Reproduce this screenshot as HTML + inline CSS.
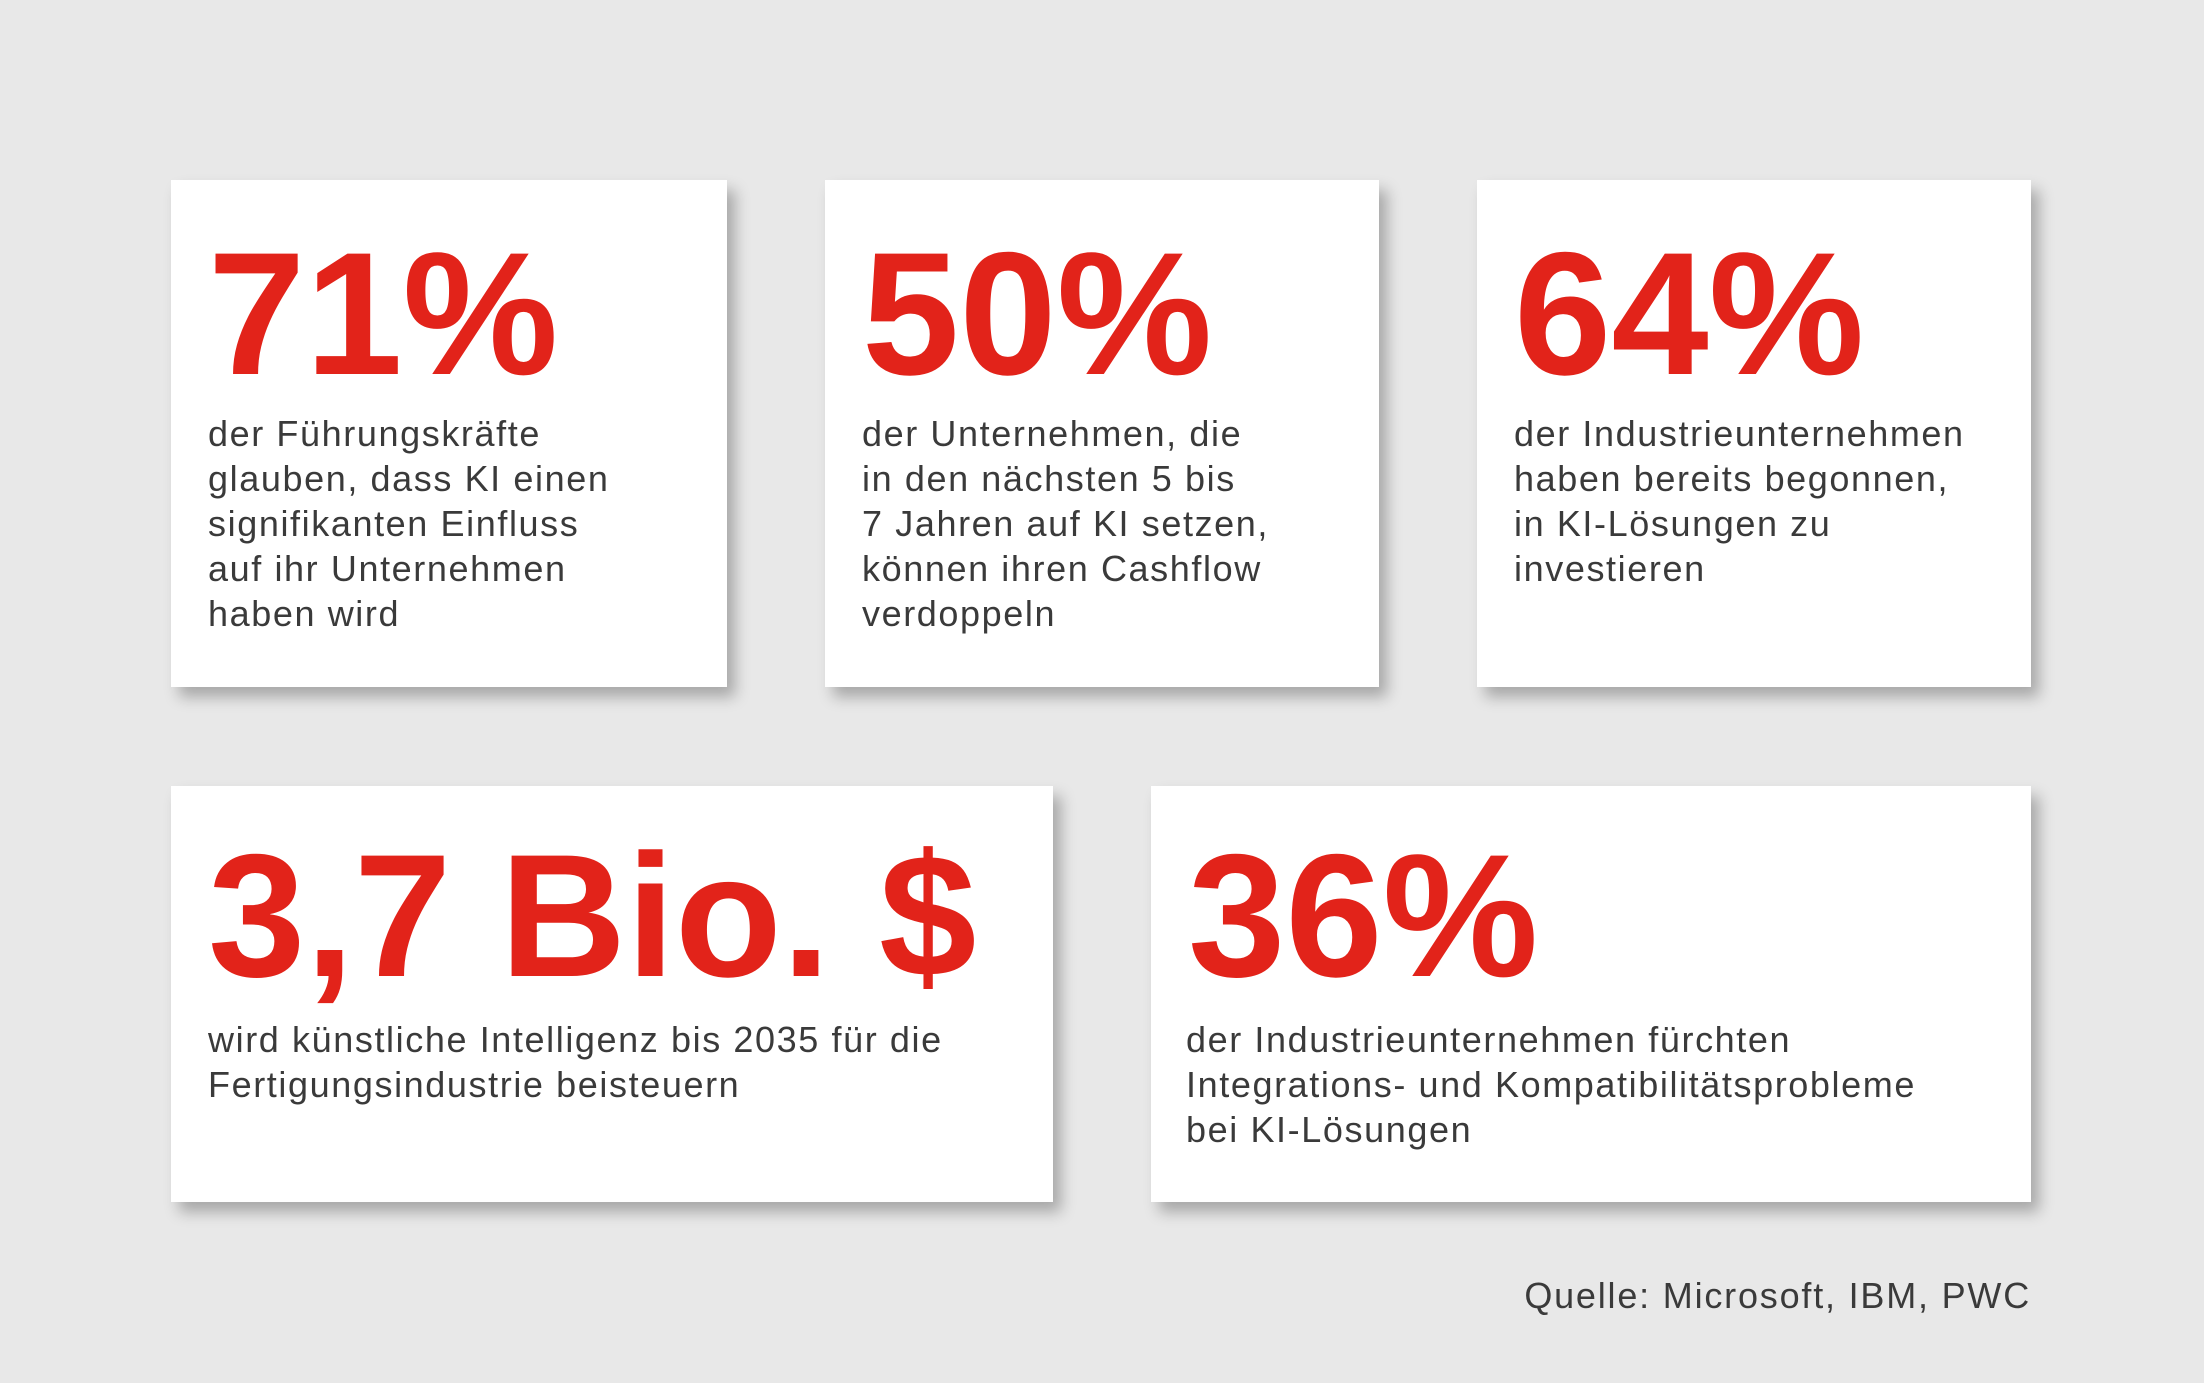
<!DOCTYPE html>
<html><head><meta charset="utf-8">
<style>
html,body{margin:0;padding:0}
body{width:2204px;height:1383px;background:#e8e8e8;position:relative;overflow:hidden;font-family:"Liberation Sans",sans-serif}
.card{position:absolute;background:#fff;box-shadow:8px 10px 14px rgba(0,0,0,0.28)}
.num{position:absolute;color:#e2231a;font-weight:bold;font-size:175px;line-height:1;letter-spacing:0px;white-space:nowrap}
.txt{position:absolute;color:#3a3a3a;font-size:36px;line-height:45px;white-space:nowrap;letter-spacing:1.6px}
.src{position:absolute;right:173px;top:1273px;color:#3a3a3a;font-size:36px;line-height:45px;letter-spacing:1.8px}
</style></head><body>
<div class="card" style="left:171px;top:180px;width:556px;height:507px"></div>
<div class="card" style="left:825px;top:180px;width:554px;height:507px"></div>
<div class="card" style="left:1477px;top:180px;width:554px;height:507px"></div>
<div class="card" style="left:171px;top:786px;width:882px;height:416px"></div>
<div class="card" style="left:1151px;top:786px;width:880px;height:416px"></div>

<div class="num" style="left:208px;top:227px">71%</div>
<div class="num" style="left:862px;top:227px">50%</div>
<div class="num" style="left:1514px;top:227px">64%</div>
<div class="num" style="left:208px;top:829px">3,7 Bio. $</div>
<div class="num" style="left:1188px;top:829px">36%</div>

<div class="txt" style="left:208px;top:411px">der Führungskräfte<br>glauben, dass KI einen<br>signifikanten Einfluss<br>auf ihr Unternehmen<br>haben wird</div>
<div class="txt" style="left:862px;top:411px">der Unternehmen, die<br>in den nächsten 5 bis<br>7 Jahren auf KI setzen,<br>können ihren Cashflow<br>verdoppeln</div>
<div class="txt" style="left:1514px;top:411px">der Industrieunternehmen<br>haben bereits begonnen,<br>in KI-Lösungen zu<br>investieren</div>
<div class="txt" style="left:208px;top:1017px">wird künstliche Intelligenz bis 2035 für die<br>Fertigungsindustrie beisteuern</div>
<div class="txt" style="left:1186px;top:1017px">der Industrieunternehmen fürchten<br>Integrations- und Kompatibilitätsprobleme<br>bei KI-Lösungen</div>

<div class="src">Quelle: Microsoft, IBM, PWC</div>
</body></html>
